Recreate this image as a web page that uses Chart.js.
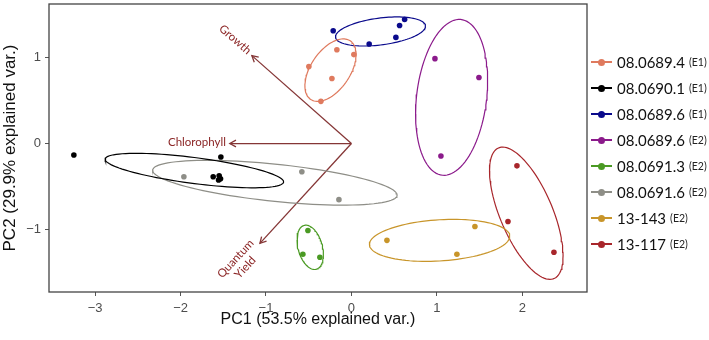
<!DOCTYPE html>
<html>
<head>
<meta charset="utf-8">
<script src="https://cdn.jsdelivr.net/npm/chart.js@4.4.0/dist/chart.umd.min.js"></script>
<style>
body{margin:0;background:#fff;}
#wrap{position:relative;width:709px;height:340px;}
#legend{position:absolute;left:591px;top:49px;font-family:Lato,sans-serif;}
.row{height:26px;display:flex;align-items:center;white-space:nowrap;}
.mk{position:relative;width:21px;height:2px;margin-right:5px;}
.mk i{position:absolute;left:7px;top:-2.5px;width:7px;height:7px;border-radius:50%;}
.nm{font-size:15px;color:#111;}
.ex{font-size:10.5px;color:#222;margin-left:4px;}
</style>
</head>
<body>
<div id="wrap">
<canvas id="c" width="709" height="340"></canvas>
<div id="legend"></div>
</div>
<script>
// groups (legend order)
var groups = ['08.0689.4', '08.0690.1', '08.0689.6', '08.0689.6', '08.0691.3', '08.0691.6', '13-143', '13-117'];
var envs = ['E1', 'E1', 'E1', 'E2', 'E2', 'E2', 'E2', 'E2'];
var colors = ['#DF7A5E', '#000000', '#0A0A8C', '#8B1A8B', '#4A9A23', '#8E8E87', '#C8952A', '#A8262B'];

// PC scores per group
var pc1 = [
  [-0.498, -0.170, 0.029, -0.228, -0.357],
  [-3.249, -1.528, -1.618, -1.548, -1.532, -1.555],
  [-0.213, 0.208, 0.521, 0.564, 0.623],
  [0.978, 1.493, 1.048],
  [-0.509, -0.568, -0.369],
  [-1.961, -0.580, -0.146],
  [0.416, 1.446, 1.235],
  [1.938, 1.833, 2.371]
];
var pc2 = [
  [0.896, 1.092, 1.035, 0.757, 0.491],
  [-0.133, -0.156, -0.387, -0.376, -0.410, -0.425],
  [1.312, 1.158, 1.235, 1.373, 1.443],
  [0.988, 0.769, -0.145],
  [-1.012, -1.289, -1.324],
  [-0.387, -0.329, -0.653],
  [-1.127, -0.965, -1.289],
  [-0.260, -0.908, -1.266]
];

// variable loadings (arrows)
var varNames = ['Growth', 'Chlorophyll', 'Quantum\nYield'];
var varX = [-1.165, -1.423, -1.071];
var varY = [1.023, 0, -1.162];

var xTicks = [-3, -2, -1, 0, 1, 2];
var yTicks = [-1, 0, 1];
var ellipseProb = 0.68;

function mean(a){ var s = 0; for (var i = 0; i < a.length; i++) s += a[i]; return s / a.length; }

// normal-theory ellipse like ggbiplot
function ellipse(xs, ys) {
  var n = xs.length, mx = mean(xs), my = mean(ys);
  var sxx = 0, syy = 0, sxy = 0;
  for (var i = 0; i < n; i++) {
    var dx = xs[i] - mx, dy = ys[i] - my;
    sxx += dx * dx; syy += dy * dy; sxy += dx * dy;
  }
  sxx /= (n - 1); syy /= (n - 1); sxy /= (n - 1);
  var a = Math.sqrt(sxx), b = sxy / a, c = Math.sqrt(Math.max(syy - b * b, 0));
  var ed = Math.sqrt(-2 * Math.log(1 - ellipseProb));
  var pts = [];
  for (var k = 0; k <= 100; k++) {
    var t = -Math.PI + 2 * Math.PI * k / 100;
    var ct = Math.cos(t), st = Math.sin(t);
    pts.push({x: mx + ct * a * ed, y: my + (ct * b + st * c) * ed});
  }
  return pts;
}

var datasets = [];
for (var g = 0; g < groups.length; g++) {
  var pts = [];
  for (var j = 0; j < pc1[g].length; j++) pts.push({x: pc1[g][j], y: pc2[g][j]});
  datasets.push({
    data: pts, backgroundColor: colors[g], borderColor: colors[g],
    pointRadius: 2.8, pointBorderWidth: 0, showLine: false
  });
  datasets.push({
    data: ellipse(pc1[g], pc2[g]), borderColor: colors[g], borderWidth: 1.2,
    pointRadius: 0, showLine: true, fill: false, tension: 0
  });
}
for (var v = 0; v < varNames.length; v++) {
  datasets.push({
    data: [{x: 0, y: 0}, {x: varX[v], y: varY[v]}], borderColor: '#853636', borderWidth: 1.3,
    pointRadius: 0, showLine: true, fill: false
  });
}

var extras = {
  id: 'extras',
  afterDatasetsDraw: function(chart) {
    var ctx = chart.ctx, x = chart.scales.x, y = chart.scales.y;
    var ox = x.getPixelForValue(0), oy = y.getPixelForValue(0);
    for (var i = 0; i < varNames.length; i++) {
      var px = x.getPixelForValue(varX[i]), py = y.getPixelForValue(varY[i]);
      var ang = Math.atan2(py - oy, px - ox);
      ctx.save();
      ctx.strokeStyle = '#853636';
      ctx.lineWidth = 1.3;
      ctx.beginPath();
      ctx.moveTo(px - 7 * Math.cos(ang - 0.5), py - 7 * Math.sin(ang - 0.5));
      ctx.lineTo(px, py);
      ctx.lineTo(px - 7 * Math.cos(ang + 0.5), py - 7 * Math.sin(ang + 0.5));
      ctx.stroke();
      var rot = Math.atan(varY[i] / varX[i]);
      ctx.translate(px, py);
      ctx.rotate(-rot);
      ctx.fillStyle = '#8B2525';
      ctx.font = '11.5px Lato';
      ctx.textBaseline = 'middle';
      ctx.textAlign = 'center';
      var lines = varNames[i].split('\n');
      var w = 0;
      for (var l = 0; l < lines.length; l++) w = Math.max(w, ctx.measureText(lines[l]).width);
      for (var l2 = 0; l2 < lines.length; l2++) {
        ctx.fillText(lines[l2], -4 - w / 2, (l2 - (lines.length - 1) / 2) * 13 - 1);
      }
      ctx.restore();
    }
  },
  afterDraw: function(chart) {
    var ctx = chart.ctx, a = chart.chartArea;
    ctx.save();
    ctx.strokeStyle = '#444';
    ctx.lineWidth = 1.3;
    ctx.strokeRect(a.left, a.top, a.right - a.left, a.bottom - a.top);
    ctx.restore();
  }
};

function minusLabel(v) { return (v < 0 ? '\u2212' : '') + Math.abs(v); }

new Chart(document.getElementById('c'), {
  type: 'scatter',
  data: {datasets: datasets},
  plugins: [extras],
  options: {
    responsive: false,
    animation: false,
    layout: {padding: {top: 2, right: 122, left: 0, bottom: 0}},
    plugins: {legend: {display: false}, tooltip: {enabled: false}},
    scales: {
      x: {
        type: 'linear', min: -3.54, max: 2.758,
        afterBuildTicks: function(s) { s.ticks = xTicks.map(function(t){ return {value: t}; }); },
        ticks: {callback: minusLabel, color: '#4d4d4d', font: {family: 'Liberation Sans', size: 13}, padding: 5},
        grid: {drawOnChartArea: false, drawTicks: true, tickLength: 4, tickColor: '#555'},
        border: {display: false},
        title: {display: true, text: 'PC1 (53.5% explained var.)', color: '#111',
                font: {family: 'Liberation Sans', size: 16}, padding: {top: 0, bottom: 11}},
        afterFit: function(s) { s.height = 48; s.paddingLeft = 0; s.paddingRight = 0; }
      },
      y: {
        type: 'linear', min: -1.728, max: 1.624,
        afterBuildTicks: function(s) { s.ticks = yTicks.map(function(t){ return {value: t}; }); },
        ticks: {callback: minusLabel, color: '#4d4d4d', font: {family: 'Liberation Sans', size: 13}, padding: 4},
        grid: {drawOnChartArea: false, drawTicks: true, tickLength: 4, tickColor: '#555'},
        border: {display: false},
        title: {display: true, text: 'PC2 (29.9% explained var.)', color: '#111',
                font: {family: 'Liberation Sans', size: 17}, padding: {top: 0, bottom: 0}},
        afterFit: function(s) { s.width = 49; s.paddingTop = 0; s.paddingBottom = 0; }
      }
    }
  }
});

// legend
var lg = document.getElementById('legend');
for (var r = 0; r < groups.length; r++) {
  var row = document.createElement('div');
  row.className = 'row';
  row.innerHTML = '<span class="mk" style="background:' + colors[r] + '"><i style="background:' + colors[r] + '"></i></span>' +
    '<span class="nm">' + groups[r] + '</span><span class="ex">(' + envs[r] + ')</span>';
  lg.appendChild(row);
}
</script>
</body>
</html>
